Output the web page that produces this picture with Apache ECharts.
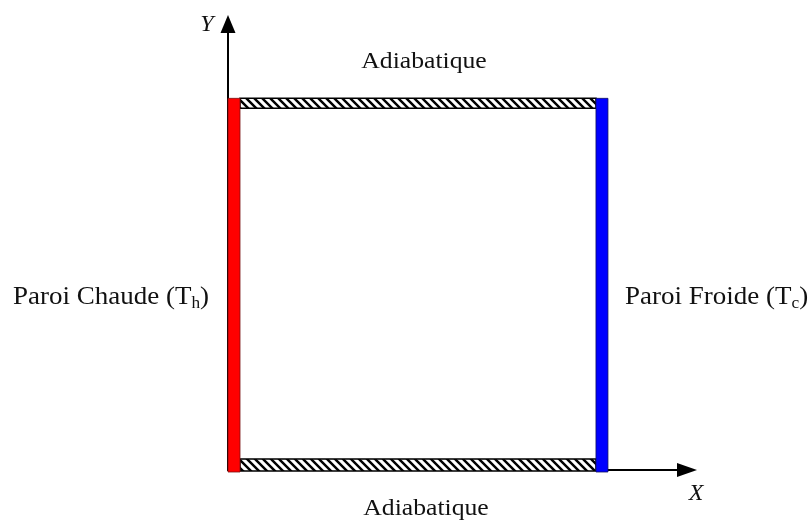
<!DOCTYPE html>
<html>
<head>
<meta charset="utf-8">
<script src="https://cdn.jsdelivr.net/npm/echarts@6/dist/echarts.min.js"></script>
<style>html,body{margin:0;padding:0;background:#fff}#c{width:812px;height:520px}</style>
</head>
<body>
<div id="c"></div>
<script>
// ---- data ----
const axisNames = ['X', 'Y'];
const boxX = [0, 1];            // cavity extent along X (normalised)
const boxY = [0, 1];            // cavity extent along Y (normalised)
const walls = ['left', 'right', 'top', 'bottom'];
const wallLabels = ['Paroi Chaude (T', 'Paroi Froide (T', 'Adiabatique', 'Adiabatique'];
const wallSubs = ['h', 'c', '', ''];
const axisMax = [1.208, 1.2];

// ---- styles ----
const SERIF = '"Liberation Serif", "DejaVu Serif", serif';
const wallStyle = {
  left:   { thick: 12, fill: '#ff0000', stroke: '#7a1010' },
  right:  { thick: 12, fill: '#0000ff', stroke: '#101060' },
  top:    { thick: 10, fill: 'hatch',   stroke: '#000' },
  bottom: { thick: 12, fill: 'hatch',   stroke: '#000' }
};

function makeHatch() {
  const n = 8;
  const cv = document.createElement('canvas');
  cv.width = n; cv.height = n;
  const g = cv.getContext('2d');
  g.fillStyle = '#000'; g.fillRect(0, 0, n, n);
  g.strokeStyle = '#fff'; g.lineWidth = 3.2;
  g.beginPath();
  g.moveTo(-n, -n); g.lineTo(2 * n, 2 * n);
  g.moveTo(-n, 0); g.lineTo(n, 2 * n);
  g.moveTo(0, -n); g.lineTo(2 * n, n);
  g.stroke();
  return { image: cv, repeat: 'repeat' };
}
const hatch = makeHatch();

const chart = echarts.init(document.getElementById('c'), null, { renderer: 'canvas' });

function renderWall(params, api) {
  const side = walls[api.value(0)];
  const p00 = api.coord([boxX[0], boxY[0]]);
  const p11 = api.coord([boxX[1], boxY[1]]);
  const L = p00[0], R = p11[0], B = p00[1], T = p11[1];
  const lt = wallStyle.left.thick, rt = wallStyle.right.thick;
  const st = wallStyle[side];
  let shape;
  if (side === 'left') shape = { x: L, y: T, width: lt, height: B - T + 2 };
  else if (side === 'right') shape = { x: R - rt, y: T, width: rt, height: B - T + 2 };
  else if (side === 'top') shape = { x: L + lt, y: T, width: R - rt - L - lt, height: st.thick };
  else shape = { x: L + lt, y: B - st.thick + 1, width: R - rt - L - lt, height: st.thick };
  return {
    type: 'rect',
    shape: shape,
    z2: (side === 'left' || side === 'right') ? 10 : 5,
    style: {
      fill: st.fill === 'hatch' ? hatch : st.fill,
      stroke: st.stroke,
      lineWidth: st.fill === 'hatch' ? 1.5 : 0.8
    }
  };
}

const axisCommon = {
  type: 'value',
  splitLine: { show: false },
  axisTick: { show: false },
  axisLabel: { show: false },
  min: 0
};

const labelPos = [
  { x: 13, y: 297, align: 'left' },
  { x: 625, y: 297, align: 'left' },
  { x: 424, y: 62, align: 'center' },
  { x: 426, y: 509, align: 'center' }
];

const graphics = [];
wallLabels.forEach((t, i) => {
  const p = labelPos[i];
  const side = i < 2;
  graphics.push({
    type: 'text',
    x: p.x, y: p.y,
    scaleX: side ? 1.08 : 1.07,
    style: {
      text: wallSubs[i] ? '{a|' + t + '}{s|' + wallSubs[i] + '}{a|)}' : t,
      font: (side ? 25 : 24) + 'px ' + SERIF,
      fill: '#111',
      align: p.align,
      verticalAlign: 'middle',
      rich: {
        a: { fontSize: 25, fontFamily: SERIF, lineHeight: 30, fill: '#111' },
        s: { fontSize: 16, fontFamily: SERIF, lineHeight: 14, verticalAlign: 'bottom', fill: '#111' }
      }
    }
  });
});
graphics.push({ type: 'text', x: 207, y: 25, style: { text: axisNames[1], font: 'italic 24px ' + SERIF, fill: '#111', align: 'center', verticalAlign: 'middle' } });
graphics.push({ type: 'text', x: 696, y: 494, style: { text: axisNames[0], font: 'italic 24px ' + SERIF, fill: '#111', align: 'center', verticalAlign: 'middle' } });

chart.setOption({
  animation: false,
  backgroundColor: '#fff',
  grid: { left: 228, right: 125, top: 24, bottom: 50 },
  xAxis: Object.assign({}, axisCommon, {
    max: axisMax[0],
    axisLine: { show: true, onZero: false, symbol: ['none', 'triangle'], symbolSize: [14, 20], lineStyle: { color: '#000', width: 2 } }
  }),
  yAxis: Object.assign({}, axisCommon, {
    max: axisMax[1],
    axisLine: { show: true, onZero: false, symbol: ['none', 'triangle'], symbolSize: [15, 18], lineStyle: { color: '#000', width: 2 } }
  }),
  series: [{
    type: 'custom',
    renderItem: renderWall,
    data: walls.map((w, i) => [i]),
    clip: false,
    silent: true
  }],
  graphic: graphics
});
</script>
</body>
</html>
